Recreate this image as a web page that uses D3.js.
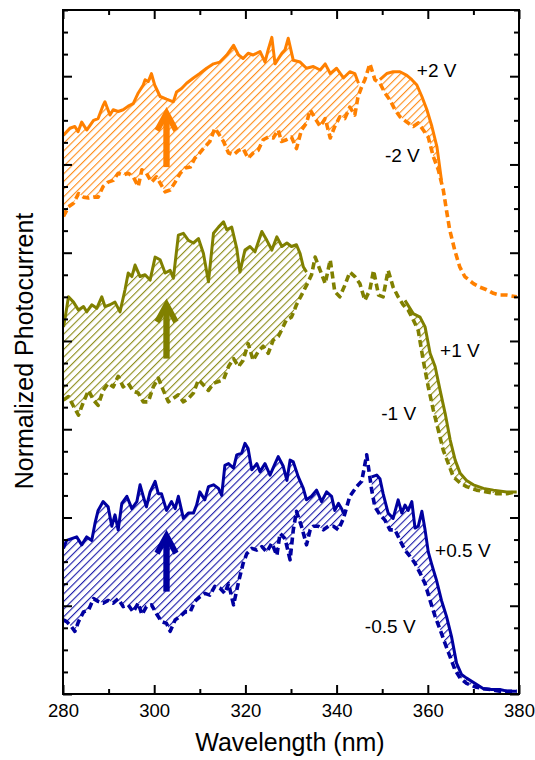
<!DOCTYPE html>
<html><head><meta charset="utf-8">
<script src="https://cdn.jsdelivr.net/npm/d3@7"></script>
<style>body{margin:0;background:#fff}svg{display:block}</style>
</head><body>
<svg id="chart" width="535" height="760"></svg>
<script>
// ---------- data (wavelength nm, normalized photocurrent, offset per pair) ----------
const wavelengthTicks = [280, 300, 320, 340, 360, 380];
const wavelengthMinorTicks = [290, 310, 330, 350, 370];
const seriesLabels = ["+2 V", "-2 V", "+1 V", "-1 V", "+0.5 V", "-0.5 V"];
const seriesColors = ["#ff8000", "#808000", "#0000a0"];

const pos2V = [[280.1,6.33],[281.5,6.41],[282.6,6.43],[283.3,6.37],[284.1,6.48],[285.2,6.39],[286.7,6.50],[287.7,6.52],[288.8,6.67],[289.2,6.71],[290.3,6.56],[291.0,6.62],[292.1,6.60],[293.2,6.62],[294.3,6.66],[295.4,6.69],[296.5,6.81],[297.6,6.90],[298.0,6.96],[298.7,6.94],[299.4,7.03],[300.1,6.90],[301.3,6.77],[302.7,6.74],[304.2,6.71],[304.9,6.82],[306.0,6.86],[307.1,6.92],[308.6,6.98],[310.0,7.03],[311.5,7.09],[313.0,7.14],[314.4,7.16],[315.9,7.24],[317.4,7.35],[318.5,7.24],[319.5,7.20],[320.6,7.26],[321.7,7.24],[323.2,7.28],[324.3,7.16],[325.0,7.30],[325.8,7.44],[326.5,7.14],[328.0,7.26],[328.7,7.30],[329.4,7.43],[330.5,7.18],[332.0,7.16],[333.4,7.09],[334.9,7.11],[336.4,7.07],[337.5,7.14],[338.6,7.03],[340.0,7.09],[341.5,6.98],[342.9,7.05],[344.0,7.03],[344.8,6.92],[347.0,null],[349.5,6.96],[351.0,7.03],[352.4,7.05],[353.9,7.05],[355.4,7.01],[356.5,6.96],[357.6,6.90],[358.7,6.77],[359.8,6.62],[360.9,6.43],[362.0,6.20],[363.0,5.82]];
const neg2V = [[280.1,5.41],[281.2,5.52],[282.3,5.56],[283.4,5.67],[284.5,5.63],[285.6,5.62],[286.7,5.63],[287.7,5.63],[288.8,5.75],[289.9,5.80],[291.0,5.82],[292.1,5.90],[293.2,5.88],[294.3,5.90],[295.4,5.86],[296.5,5.75],[297.3,5.94],[298.3,5.90],[299.4,5.80],[300.5,5.86],[301.3,5.79],[302.4,5.69],[303.5,5.71],[304.6,5.80],[305.7,5.90],[306.8,5.96],[307.9,5.97],[308.9,6.07],[310.0,6.13],[311.1,6.20],[312.2,6.26],[313.3,6.41],[314.1,6.35],[315.2,6.26],[316.3,6.13],[317.4,6.11],[318.5,6.16],[319.5,6.18],[320.6,6.07],[321.7,6.13],[322.8,6.16],[323.9,6.28],[325.0,6.31],[326.1,6.30],[327.2,6.39],[327.9,6.26],[329.0,6.28],[330.1,6.31],[331.2,6.18],[332.3,6.39],[333.4,6.47],[334.2,6.62],[335.3,6.52],[336.4,6.43],[337.5,6.52],[338.6,6.30],[339.6,6.43],[340.7,6.54],[341.8,6.52],[342.9,6.65],[344.0,6.56],[344.7,6.77],[345.5,6.88],[346.2,6.96],[347.3,7.14],[348.4,6.96],[349.5,6.92],[350.6,6.81],[351.7,6.73],[352.8,6.62],[353.9,6.54],[355.4,6.48],[356.8,6.43],[357.9,6.47],[359.0,6.39],[360.1,6.31],[361.2,6.09],[362.3,5.94],[363.4,5.71],[364.1,5.48],[364.8,5.26],[365.9,5.03],[367.0,4.84],[368.1,4.73],[370.0,4.65],[371.4,4.61],[372.9,4.58],[374.4,4.54],[375.8,4.52],[377.3,4.52],[379.5,4.50]];
const pos1V = [[280.1,4.16],[280.4,4.24],[281.2,4.50],[282.3,4.44],[283.4,4.35],[284.5,4.39],[285.2,4.33],[286.3,4.41],[287.4,4.37],[288.5,4.50],[289.2,4.39],[290.3,4.41],[291.4,4.44],[292.5,4.33],[293.6,4.58],[294.3,4.77],[295.1,4.73],[295.8,4.86],[296.9,4.73],[298.0,4.75],[299.1,4.69],[300.2,4.95],[301.3,4.92],[302.4,4.77],[303.5,4.80],[304.2,4.71],[305.3,5.20],[306.4,5.22],[307.5,5.14],[308.6,5.11],[309.7,5.16],[310.8,4.99],[311.9,4.67],[313.0,5.22],[314.1,5.29],[315.2,5.35],[315.9,5.26],[317.0,5.29],[318.1,5.05],[318.8,4.78],[319.9,5.03],[321.0,5.07],[322.1,5.01],[323.6,5.24],[324.7,5.14],[325.8,5.03],[326.9,5.18],[328.0,5.07],[329.1,5.11],[330.1,5.07],[331.2,5.09],[332.0,4.99],[332.7,4.84],[333.4,4.78],[334.5,null],[355.0,4.46],[356.8,4.31],[358.3,4.27],[359.4,4.16],[360.5,3.86],[361.6,3.71],[362.7,3.44],[363.8,3.18],[364.9,2.88],[366.0,2.65],[367.1,2.50],[368.5,2.42],[370.0,2.37],[372.2,2.33],[374.4,2.31],[377.3,2.29],[379.5,2.29]];
const neg1V = [[280.1,3.33],[281.2,3.37],[282.3,3.26],[283.4,3.16],[284.5,3.31],[285.6,3.44],[286.7,3.33],[287.7,3.27],[288.8,3.44],[289.9,3.52],[291.0,3.48],[292.1,3.60],[293.2,3.48],[294.3,3.52],[295.4,3.43],[296.5,3.41],[297.6,3.31],[298.7,3.31],[299.8,3.48],[300.9,3.58],[302.0,3.44],[303.1,3.31],[304.2,3.35],[305.3,3.39],[306.4,3.31],[307.5,3.35],[308.6,3.41],[309.7,3.56],[310.8,3.50],[311.9,3.44],[313.0,3.52],[314.1,3.54],[315.2,3.56],[316.3,3.71],[317.4,3.80],[318.5,3.71],[319.5,3.78],[320.6,3.97],[321.7,3.78],[322.8,3.88],[323.9,3.94],[325.0,3.86],[326.1,4.01],[327.2,4.05],[327.9,4.12],[329.0,4.24],[330.1,4.27],[331.2,4.41],[332.3,4.52],[333.4,4.63],[334.5,4.75],[335.3,4.95],[336.4,4.80],[337.5,4.65],[338.6,4.92],[339.6,4.56],[340.7,4.50],[341.8,4.63],[342.9,4.78],[344.0,4.73],[345.1,4.65],[346.2,4.46],[347.3,4.58],[348.1,4.80],[349.2,4.52],[350.2,4.50],[351.3,4.80],[352.4,4.61],[353.5,4.50],[354.6,4.41],[355.7,4.35],[356.8,4.24],[357.9,4.12],[359.0,3.78],[360.1,3.48],[361.2,3.22],[362.3,2.99],[363.4,2.76],[364.5,2.61],[365.6,2.46],[367.1,2.39],[368.5,2.35],[370.7,2.31],[372.9,2.29],[375.1,2.27],[377.3,2.27],[379.5,2.29]];
const pos05V = [[280.1,1.65],[280.8,1.74],[281.9,1.76],[283.0,1.78],[284.1,1.69],[285.2,1.78],[286.3,1.74],[287.0,1.93],[287.7,2.08],[288.8,2.18],[289.9,2.12],[290.7,1.90],[291.4,2.03],[292.1,1.86],[292.9,2.16],[294.0,2.24],[295.1,2.10],[296.2,2.18],[296.9,2.37],[297.6,2.24],[298.3,2.12],[299.1,2.29],[300.2,2.41],[300.9,2.27],[301.6,2.27],[302.7,2.08],[303.8,2.18],[304.6,2.10],[305.3,2.24],[306.4,1.99],[307.5,2.05],[308.6,2.05],[309.3,2.14],[310.0,2.29],[311.1,2.20],[311.9,2.35],[313.0,2.37],[314.1,2.33],[314.8,2.25],[315.5,2.59],[316.3,2.61],[317.4,2.56],[318.1,2.71],[319.2,2.73],[319.9,2.84],[320.6,2.78],[321.4,2.54],[322.5,2.61],[323.2,2.52],[324.3,2.61],[325.4,2.48],[326.5,2.61],[327.2,2.69],[328.3,2.58],[329.1,2.42],[329.8,2.65],[330.5,2.63],[331.6,2.46],[332.7,2.33],[333.4,2.20],[334.5,2.24],[335.6,2.31],[336.7,2.18],[337.8,2.29],[338.9,2.24],[339.6,2.08],[340.4,2.16],[341.1,2.10],[341.5,2.05],[344.5,null],[347.7,2.46],[348.8,2.48],[349.5,2.44],[350.2,2.27],[351.3,2.05],[352.4,1.99],[353.5,2.20],[354.3,2.05],[355.0,2.14],[355.7,2.08],[356.5,2.18],[357.2,1.88],[357.9,1.90],[358.7,2.07],[359.4,1.86],[360.1,1.61],[360.8,1.48],[361.9,1.29],[363.0,1.06],[364.1,0.88],[365.2,0.65],[366.3,0.35],[367.4,0.22],[368.5,0.18],[370.4,0.12],[372.2,0.06],[374.0,0.05],[375.8,0.05],[377.6,0.03],[379.5,0.03]];
const neg05V = [[280.1,0.84],[280.8,0.82],[281.9,0.76],[282.6,0.71],[283.4,0.82],[284.5,0.93],[285.6,0.95],[286.7,1.08],[287.7,1.05],[288.8,1.03],[289.9,1.06],[291.0,1.03],[292.1,1.08],[293.2,0.99],[294.3,1.01],[295.4,0.93],[296.5,1.03],[297.3,0.90],[298.3,0.99],[299.4,1.01],[300.5,0.91],[301.6,0.82],[302.7,0.80],[303.5,0.71],[304.6,0.84],[305.7,0.88],[306.8,0.93],[307.9,0.93],[308.9,1.05],[310.0,1.10],[311.1,1.14],[312.2,1.12],[313.3,1.22],[314.4,1.20],[315.5,1.14],[316.3,1.25],[317.4,1.01],[318.5,1.27],[319.5,1.48],[320.3,1.59],[321.4,1.65],[322.5,1.63],[323.6,1.67],[324.7,1.61],[325.8,1.71],[326.9,1.57],[327.6,1.82],[328.7,1.76],[329.8,1.52],[330.5,1.86],[331.2,2.07],[332.3,1.90],[333.4,1.69],[334.2,1.86],[334.9,1.90],[336.0,1.90],[337.1,1.86],[338.2,1.90],[339.3,1.90],[340.4,1.86],[341.5,1.99],[342.9,2.24],[344.4,2.35],[345.5,2.41],[346.6,2.71],[347.7,2.31],[348.4,2.12],[349.5,2.03],[350.6,1.97],[351.7,1.86],[352.8,1.86],[353.9,1.74],[355.0,1.63],[356.1,1.56],[357.2,1.48],[358.3,1.37],[359.4,1.25],[360.5,1.06],[361.6,0.88],[362.7,0.73],[363.8,0.57],[364.9,0.42],[366.0,0.27],[367.1,0.18],[368.5,0.12],[370.4,0.08],[372.2,0.06],[374.0,0.05],[375.8,0.03],[377.6,0.03],[379.5,0.03]];

const arrowWavelength = 302.7;
const arrowTail = [5.97, 3.80, 1.16];
const arrowHead = [6.65, 4.48, 1.86];

// ---------- chart ----------
const svg = d3.select("#chart");
const x = d3.scaleLinear().domain([280, 380]).range([63, 519]);
const y = d3.scaleLinear().domain([0, 7.75]).range([694, 10]);
const FONT = "'Liberation Sans', Arial, Helvetica, sans-serif";

const pairs = [
  {pos: pos2V, neg: neg2V, color: seriesColors[0]},
  {pos: pos1V, neg: neg1V, color: seriesColors[1]},
  {pos: pos05V, neg: neg05V, color: seriesColors[2]}
];

const defs = svg.append("defs");
defs.append("clipPath").attr("id", "plotclip").append("rect")
  .attr("x", 63).attr("y", 10).attr("width", 456).attr("height", 684);

pairs.forEach((p, i) => {
  const pat = defs.append("pattern").attr("id", "hatch" + i)
    .attr("patternUnits", "userSpaceOnUse").attr("width", 5.4).attr("height", 5.4)
    .attr("patternTransform", "rotate(45)");
  pat.append("line").attr("x1", 0.6).attr("y1", 0).attr("x2", 0.6).attr("y2", 5.4)
    .attr("stroke", p.color).attr("stroke-width", 1);
  const belowPos = d3.area().defined(d => d[1] != null)
    .x(d => x(d[0])).y0(y(0)).y1(d => y(d[1]));
  defs.append("clipPath").attr("id", "below" + i).append("path")
    .attr("d", belowPos(p.pos));
});

const plotG = svg.append("g").attr("clip-path", "url(#plotclip)");

// hatched areas between curves
const aboveNeg = d3.area().x(d => x(d[0])).y0(d => y(d[1])).y1(y(7.75));
pairs.forEach((p, i) => {
  plotG.append("g").attr("clip-path", `url(#below${i})`)
    .append("path").attr("d", aboveNeg(p.neg)).attr("fill", `url(#hatch${i})`);
});

const lineGen = d3.line().defined(d => d[1] != null).x(d => x(d[0])).y(d => y(d[1]));
pairs.forEach(p => {
  plotG.append("path").attr("d", lineGen(p.neg)).attr("fill", "none")
    .attr("stroke", p.color).attr("stroke-width", 3.6).attr("stroke-dasharray", "7,4")
    .attr("stroke-linejoin", "round");
  plotG.append("path").attr("d", lineGen(p.pos)).attr("fill", "none")
    .attr("stroke", p.color).attr("stroke-width", 3).attr("stroke-linejoin", "round");
});

// arrows
pairs.forEach((p, i) => {
  const cx = x(arrowWavelength), ty = y(arrowHead[i]), by = y(arrowTail[i]);
  svg.append("line").attr("x1", cx).attr("x2", cx).attr("y1", by).attr("y2", ty + 10)
    .attr("stroke", p.color).attr("stroke-width", 6.4);
  const pts = [[0,0],[12,22],[7,25],[0,12],[-7,25],[-12,22]].map(q => [cx + q[0], ty + q[1]]);
  svg.append("path").attr("d", "M" + pts.join("L") + "Z").attr("fill", p.color);
});

// axes
const axB = svg.append("g").attr("transform", "translate(0,694)");
axB.call(d3.axisBottom(x).tickValues(wavelengthTicks).tickSizeInner(-9).tickSizeOuter(0).tickPadding(10));
axB.append("g").call(d3.axisBottom(x).tickValues(wavelengthMinorTicks).tickSizeInner(-5).tickSizeOuter(0).tickFormat(""));
const axT = svg.append("g").attr("transform", "translate(0,10)");
axT.call(d3.axisTop(x).tickValues(wavelengthTicks).tickSizeInner(-9).tickSizeOuter(0).tickFormat(""));
axT.append("g").call(d3.axisTop(x).tickValues(wavelengthMinorTicks).tickSizeInner(-5).tickSizeOuter(0).tickFormat(""));

const yMajor = d3.range(0, 8, 1);
const yMinor = d3.range(0, 7.76, 0.25).filter(v => Math.abs(v - Math.round(v)) > 1e-6);
const axL = svg.append("g").attr("transform", "translate(63,0)");
axL.call(d3.axisLeft(y).tickValues(yMajor).tickSizeInner(-9).tickSizeOuter(0).tickFormat(""));
axL.append("g").call(d3.axisLeft(y).tickValues(yMinor).tickSizeInner(-5).tickSizeOuter(0).tickFormat(""));
const axR = svg.append("g").attr("transform", "translate(519,0)");
axR.call(d3.axisRight(y).tickValues(yMajor).tickSizeInner(-9).tickSizeOuter(0).tickFormat(""));
axR.append("g").call(d3.axisRight(y).tickValues(yMinor).tickSizeInner(-5).tickSizeOuter(0).tickFormat(""));

svg.selectAll(".domain").remove();
svg.selectAll(".tick line").attr("stroke", "#000").attr("stroke-width", 2);
svg.selectAll(".tick text").attr("font-family", FONT).attr("font-size", 18.5).attr("fill", "#000");

svg.append("rect").attr("x", 63).attr("y", 10).attr("width", 456).attr("height", 684)
  .attr("fill", "none").attr("stroke", "#000").attr("stroke-width", 2);

// axis titles
svg.append("text").attr("x", 290).attr("y", 751).attr("text-anchor", "middle")
  .attr("font-family", FONT).attr("font-size", 25).text("Wavelength (nm)");
svg.append("text").attr("transform", "translate(33,351) rotate(-90)").attr("text-anchor", "middle")
  .attr("font-family", FONT).attr("font-size", 25).text("Normalized Photocurrent");

// series labels
const labelPos = [[357.6, 6.99], [350.6, 6.03], [362.7, 3.82], [349.8, 3.10], [361.6, 1.55], [346.2, 0.69]];
seriesLabels.forEach((t, i) => {
  svg.append("text").attr("x", x(labelPos[i][0])).attr("y", y(labelPos[i][1]))
    .attr("font-family", FONT).attr("font-size", 19).attr("fill", "#000").text(t);
});
</script>
</body></html>
